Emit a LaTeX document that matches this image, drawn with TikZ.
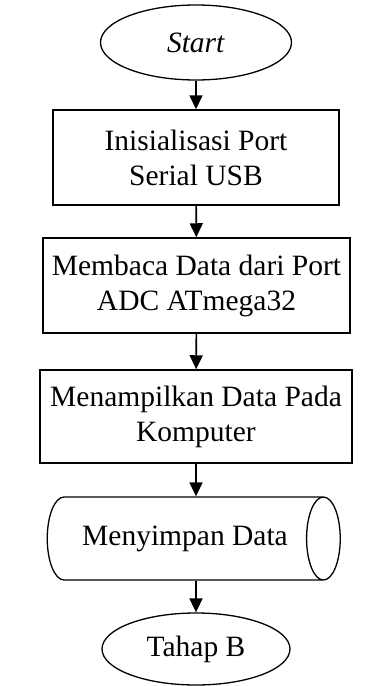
\documentclass[tikz,border=0pt]{standalone}
\usepackage{fontspec}
\setmainfont{Liberation Serif}
\usetikzlibrary{shapes.geometric,arrows.meta}
\tikzset{
  terminal/.style={draw, ellipse, line width=1.3pt, inner sep=0pt},
  proses/.style={draw, rectangle, line width=1.5pt, align=center, inner sep=0pt},
  simpan/.style={draw, cylinder, line width=1.3pt, inner sep=0pt, aspect=1.3},
  arus/.style={line width=1.6pt, -{Triangle[length=14pt,width=13pt]}}
}
\begin{document}
\begin{tikzpicture}[x=1pt,y=-1pt,font=\fontsize{29.5}{35}\selectfont]
\useasboundingbox (0,0) rectangle (374,686);
\node[terminal, minimum width=191pt, minimum height=75pt] (start) at (196,42.5) {\textit{Start}};
\node[proses, minimum width=286pt, minimum height=95pt] (init) at (196,157.5) {Inisialisasi Port\\Serial USB};
\node[proses, minimum width=307pt, minimum height=95pt] (baca) at (196.5,285.5) {Membaca Data dari Port\\ADC ATmega32};
\node[proses, minimum width=312pt, minimum height=93pt] (tampil) at (196,416.5) {Menampilkan Data Pada\\Komputer};
\node[simpan, minimum width=83pt, minimum height=293pt] (simpan) at (185,538.5) {Menyimpan Data};
\node[terminal, minimum width=188pt, minimum height=72pt] (tahapB) at (196,649) {Tahap B};
% alur
\draw[arus] (start) -- (init);
\draw[arus] (init) -- (baca);
\draw[arus] (baca) -- (tampil);
\draw[arus] (tampil.south) -- (tampil.south |- simpan.north);
\draw[arus] (tahapB |- simpan.south) -- (tahapB);
\end{tikzpicture}
\end{document}
